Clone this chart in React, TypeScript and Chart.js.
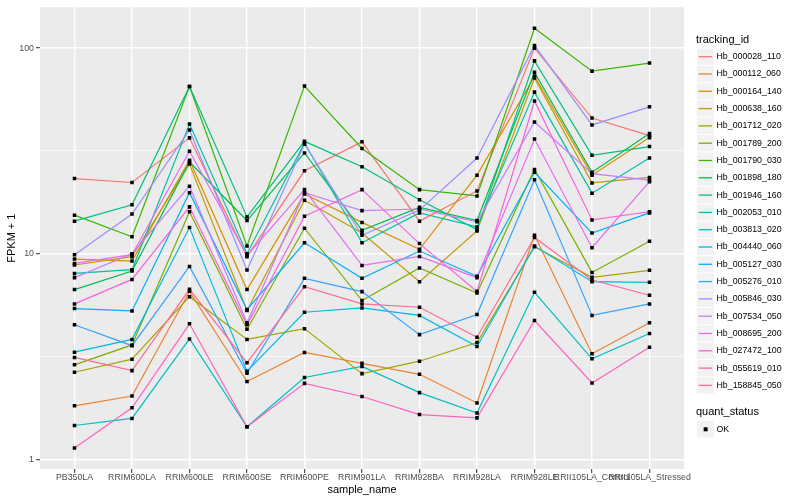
import React, { useEffect, useRef } from 'react';
import { Chart, registerables } from 'chart.js';

Chart.register(...registerables);

const sampleNames = [
  'PB350LA', 'RRIM600LA', 'RRIM600LE', 'RRIM600SE', 'RRIM600PE', 'RRIM901LA',
  'RRIM928BA', 'RRIM928LA', 'RRIM928LE', 'RRII105LA_Control', 'RRII105LA_Stressed',
];

const trackingIds = [
  'Hb_000028_110', 'Hb_000112_060', 'Hb_000164_140', 'Hb_000638_160', 'Hb_001712_020',
  'Hb_001789_200', 'Hb_001790_030', 'Hb_001898_180', 'Hb_001946_160', 'Hb_002053_010',
  'Hb_003813_020', 'Hb_004440_060', 'Hb_005127_030', 'Hb_005276_010', 'Hb_005846_030',
  'Hb_007534_050', 'Hb_008695_200', 'Hb_027472_100', 'Hb_055619_010', 'Hb_158845_050',
];

const seriesColors = [
  '#F8766D', '#EA8331', '#D89000', '#C09B00', '#A3A500', '#7CAE00', '#39B600', '#00BB4E',
  '#00BF7D', '#00C1A3', '#00BFC4', '#00BAE0', '#00B0F6', '#35A2FF', '#9590FF', '#C77CFF',
  '#E76BF3', '#FA62DB', '#FF62BC', '#FF6C91',
];

// FPKM + 1 per sample_name, in sampleNames order
const hb000028_110 = [23.2, 22.2, 36.6, 9.67, 25.3, 35.0, 14.4, 20.2, 100, 45.7, 37.5];
const hb000112_060 = [1.82, 2.03, 6.56, 2.39, 3.31, 2.93, 2.59, 1.88, 12.3, 3.26, 4.62];
const hb000164_140 = [9.42, 9.21, 28.5, 6.69, 19.5, 14.2, 10.5, 24.1, 72.9, 24.1, 36.7];
const hb000638_160 = [8.81, 9.67, 27.3, 5.29, 18.2, 12.6, 7.31, 12.9, 71.5, 22.1, 23.5];
const hb001712_020 = [2.65, 3.07, 6.18, 3.83, 4.32, 2.61, 3.0, 3.7, 10.8, 7.67, 8.3];
const hb001789_200 = [2.88, 3.6, 16.0, 4.29, 13.3, 5.92, 8.52, 6.44, 25.7, 8.11, 11.5];
const hb001790_030 = [15.4, 12.1, 65.1, 10.9, 65.4, 32.5, 20.5, 19.1, 125, 77.3, 84.6];
const hb001898_180 = [6.69, 8.24, 27.9, 14.5, 30.9, 13.0, 16.8, 14.5, 76.2, 24.9, 38.4];
const hb001946_160 = [14.4, 17.3, 65.1, 15.1, 35.2, 26.5, 18.3, 13.1, 86.7, 30.1, 33.2];
const hb002053_010 = [8.02, 8.36, 42.7, 10.0, 34.6, 11.3, 15.8, 13.5, 61.1, 19.7, 29.2];
const hb003813_020 = [1.46, 1.58, 3.85, 1.44, 2.5, 2.83, 2.11, 1.68, 6.49, 3.08, 4.09];
const hb004440_060 = [3.32, 3.83, 13.4, 2.68, 5.19, 5.45, 5.01, 3.54, 10.9, 7.31, 7.26];
const hb005127_030 = [5.41, 5.27, 19.8, 5.35, 11.3, 7.59, 10.3, 7.76, 24.9, 12.6, 15.8];
const hb005276_010 = [4.51, 3.57, 8.67, 2.62, 7.59, 6.54, 4.04, 5.06, 22.9, 5.01, 5.7];
const hb005846_030 = [9.89, 15.6, 40.0, 8.33, 34.1, 12.3, 16.3, 29.2, 103, 42.3, 51.8];
const hb007534_050 = [7.65, 10.0, 21.3, 4.62, 19.8, 16.2, 16.5, 14.3, 43.7, 24.5, 22.8];
const hb008695_200 = [8.97, 9.89, 31.5, 9.81, 20.5, 8.77, 9.7, 7.65, 36.1, 10.7, 22.4];
const hb027472_100 = [5.7, 7.5, 16.9, 4.51, 15.2, 20.5, 11.2, 6.56, 55.3, 14.6, 16.0];
const hb055619_010 = [1.135, 1.78, 4.56, 1.44, 2.34, 2.02, 1.65, 1.59, 4.73, 2.35, 3.51];
const hb158845_050 = [3.13, 2.7, 6.71, 2.95, 6.91, 5.7, 5.49, 3.92, 12.0, 7.45, 6.28];

const seriesValues = [
  hb000028_110, hb000112_060, hb000164_140, hb000638_160, hb001712_020,
  hb001789_200, hb001790_030, hb001898_180, hb001946_160, hb002053_010,
  hb003813_020, hb004440_060, hb005127_030, hb005276_010, hb005846_030,
  hb007534_050, hb008695_200, hb027472_100, hb055619_010, hb158845_050,
];

const yMajorTicks = [1, 10, 100];
const yMinorTicks = [3.1623, 31.623];
const quantStatus = ['OK'];

const FONT = '"Liberation Sans", Arial, Helvetica, sans-serif';

const ggPlugin = {
  id: 'ggStyle',
  beforeDraw(chart: any) {
    const { ctx, chartArea: a } = chart;
    ctx.save();
    ctx.fillStyle = '#EBEBEB';
    ctx.fillRect(a.left, a.top, a.right - a.left, a.bottom - a.top);
    ctx.restore();
  },
  afterDraw(chart: any) {
    const { ctx } = chart;
    ctx.save();
    const x0 = 697;
    const keyW = 17.3;
    ctx.textBaseline = 'middle';
    ctx.textAlign = 'left';
    ctx.fillStyle = '#000';
    ctx.font = `11px ${FONT}`;
    ctx.fillText('tracking_id', 696, 40);
    ctx.font = `8.8px ${FONT}`;
    trackingIds.forEach((id, i) => {
      const cy = 56.7 + i * keyW;
      ctx.fillStyle = '#F2F2F2';
      ctx.fillRect(x0, cy - keyW / 2 + 0.5, keyW - 0.5, keyW - 1);
      ctx.strokeStyle = seriesColors[i];
      ctx.lineWidth = 1.3;
      ctx.beginPath();
      ctx.moveTo(x0 + 1.7, cy);
      ctx.lineTo(x0 + keyW - 2.2, cy);
      ctx.stroke();
      ctx.fillStyle = '#000';
      ctx.fillText(id, 716.5, cy);
    });
    ctx.font = `11px ${FONT}`;
    ctx.fillText('quant_status', 696, 412.3);
    ctx.font = `8.8px ${FONT}`;
    quantStatus.forEach((q, i) => {
      const cy = 429.3 + i * keyW;
      ctx.fillStyle = '#F2F2F2';
      ctx.fillRect(x0, cy - keyW / 2 + 0.5, keyW - 0.5, keyW - 1);
      ctx.fillStyle = '#000';
      ctx.fillRect(x0 + keyW / 2 - 2, cy - 2, 4, 4);
      ctx.fillText(q, 716.5, cy);
    });
    ctx.restore();
  },
};

export default function App() {
  const canvasRef = useRef<HTMLCanvasElement | null>(null);

  useEffect(() => {
    if (!canvasRef.current) return;
    const lineSets = seriesValues.map((vals, i) => ({
      label: trackingIds[i],
      data: vals.map((v, j) => ({ x: j, y: v })),
      borderColor: seriesColors[i],
      backgroundColor: seriesColors[i],
      borderWidth: 1.2,
      pointRadius: 0,
      tension: 0,
      fill: false,
      order: -i,
    }));
    const pointSet = {
      label: 'quant_status',
      data: seriesValues.flatMap((vals) => vals.map((v, j) => ({ x: j, y: v }))),
      showLine: false,
      pointStyle: 'rect',
      pointRadius: 2.5,
      pointBackgroundColor: '#000',
      pointBorderColor: '#000',
      pointBorderWidth: 0,
      order: -1000,
    };
    const isMajor = (v: number) => yMajorTicks.some((m) => Math.abs(m - v) < 1e-6);

    const chart = new Chart(canvasRef.current, {
      type: 'line',
      data: { datasets: [...lineSets, pointSet] as any },
      plugins: [ggPlugin],
      options: {
        responsive: false,
        animation: false,
        events: [],
        layout: { padding: { left: 0, top: 5, right: 116, bottom: 0 } },
        plugins: { legend: { display: false }, tooltip: { enabled: false } },
        scales: {
          x: {
            type: 'linear',
            min: -0.6,
            max: 10.6,
            afterBuildTicks: (s: any) => {
              s.ticks = sampleNames.map((_, i) => ({ value: i }));
            },
            afterFit: (s: any) => {
              s.height = 31;
            },
            ticks: {
              autoSkip: false,
              maxRotation: 0,
              minRotation: 0,
              padding: -1,
              color: '#4D4D4D',
              font: { family: FONT, size: 8.8 },
              callback: (v: any) => sampleNames[Math.round(Number(v))] ?? '',
            },
            grid: {
              color: '#FFFFFF',
              lineWidth: 1.4,
              tickColor: '#333333',
              tickLength: 4,
              tickWidth: 1,
            },
            border: { display: false },
            title: {
              display: true,
              text: 'sample_name',
              color: '#000',
              font: { family: FONT, size: 11 },
              padding: { top: 3, bottom: 3 },
            },
          },
          y: {
            type: 'logarithmic',
            min: 0.897,
            max: 158,
            afterBuildTicks: (s: any) => {
              s.ticks = [...yMajorTicks, ...yMinorTicks].sort((a, b) => a - b).map((v) => ({ value: v }));
            },
            afterFit: (s: any) => {
              s.width = 40;
            },
            ticks: {
              autoSkip: false,
              padding: 2,
              color: '#4D4D4D',
              font: { family: FONT, size: 8.8 },
              callback: (v: any) => (isMajor(Number(v)) ? String(Math.round(Number(v))) : ''),
            },
            grid: {
              color: '#FFFFFF',
              lineWidth: (c: any) => (c.tick && isMajor(c.tick.value) ? 1.4 : 0.7),
              tickColor: (c: any) => (c.tick && isMajor(c.tick.value) ? '#333333' : 'rgba(0,0,0,0)'),
              tickLength: 4,
              tickWidth: 1,
            },
            border: { display: false },
            title: {
              display: true,
              text: 'FPKM + 1',
              color: '#000',
              font: { family: FONT, size: 11 },
              padding: { top: 5, bottom: 5 },
            },
          },
        },
      } as any,
    });
    return () => chart.destroy();
  }, []);

  return (
    <div style={{ position: 'fixed', left: 0, top: 0, width: 800, height: 500, background: '#fff' }}>
      <canvas ref={canvasRef} width={800} height={500} style={{ width: 800, height: 500, display: 'block' }} />
    </div>
  );
}
